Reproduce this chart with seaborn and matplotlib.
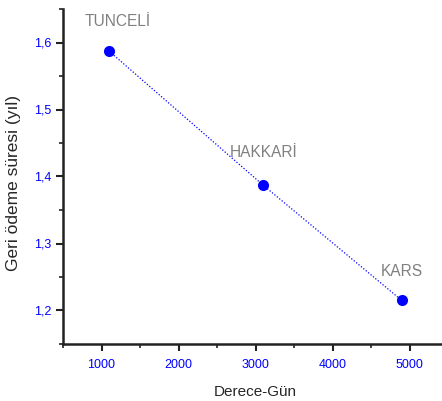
import matplotlib
matplotlib.use("Agg")
import matplotlib.pyplot as plt
import seaborn as sns
import pandas as pd
from matplotlib.ticker import FuncFormatter, MultipleLocator

cities = ["TUNCELİ", "HAKKARİ", "KARS"]
degree_days = [1100, 3100, 4900]
payback = [1.587, 1.387, 1.215]

sns.set_style("ticks")
plt.rcParams['font.family'] = ['Liberation Sans', 'DejaVu Sans']

df = pd.DataFrame({"x": degree_days, "y": payback, "city": cities})

fig = plt.figure(figsize=(4.42, 4.01), dpi=100)
ax = fig.add_axes([63/442, 1 - 344/401, (448-63)/442, (344-9)/401])

sns.lineplot(data=df, x="x", y="y", ax=ax, color="blue", linestyle=(0, (1, 1.5)),
             linewidth=0.9, marker="o", markersize=8, markeredgewidth=0,
             markerfacecolor="blue")

offsets = [(8, 22), (0, 25), (0, 21)]
for (cx, cy, name), (dx, dy) in zip(zip(degree_days, payback, cities), offsets):
    ax.annotate(name, (cx, cy), xytext=(dx, dy), textcoords="offset pixels",
                ha="center", va="bottom", color="#808080", fontsize=11.2)

ax.set_xlim(500, 5500)
ax.set_ylim(1.15, 1.65)
ax.xaxis.set_major_locator(MultipleLocator(1000))
ax.xaxis.set_minor_locator(MultipleLocator(500))
ax.yaxis.set_major_locator(MultipleLocator(0.1))
ax.yaxis.set_minor_locator(MultipleLocator(0.05))
ax.yaxis.set_major_formatter(FuncFormatter(lambda v, p: f"{v:.1f}".replace(".", ",")))
ax.xaxis.set_major_formatter(FuncFormatter(lambda v, p: f"{int(round(v))}"))

ax.tick_params(axis="both", which="major", direction="out", length=5, width=1.5,
               labelcolor="blue", labelsize=9, color="#222222")
ax.tick_params(axis="both", which="minor", direction="out", length=3, width=1.2,
               color="#222222")
ax.tick_params(axis="x", pad=6)

for s in ["top", "right"]:
    ax.spines[s].set_visible(False)
for s in ["left", "bottom"]:
    ax.spines[s].set_linewidth(1.8)
    ax.spines[s].set_color("#222222")

ax.set_xlabel("Derece-Gün", fontsize=11, labelpad=10)
ax.set_ylabel("Geri ödeme süresi (yıl)", fontsize=12.5)
ax.yaxis.set_label_coords((21 - 63) / 385, (344 - 183) / 335)

fig.savefig("out.png", dpi=100)
